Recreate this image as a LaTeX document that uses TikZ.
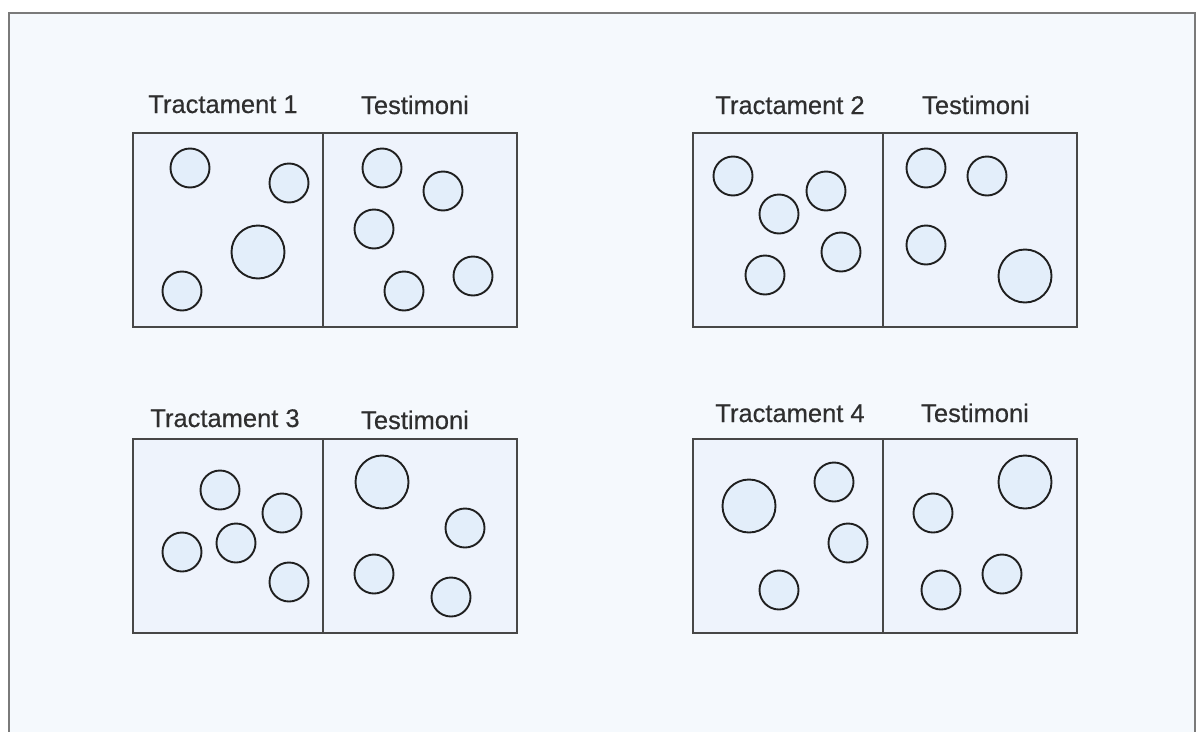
\documentclass[tikz,border=0pt]{standalone}
\usepackage{fontspec}
\setmainfont{Liberation Sans}
\newfontfamily\labelfont[FakeBold=0.5]{Liberation Sans}
\definecolor{pagebg}{HTML}{F5F9FD}
\definecolor{framegray}{HTML}{7A7A7A}
\definecolor{plotfill}{HTML}{EEF3FC}
\definecolor{plotline}{HTML}{474747}
\definecolor{cellfill}{HTML}{E3EEFA}
\definecolor{labeltext}{HTML}{2E2E2E}
\tikzset{
  half/.style={draw=plotline, line width=2pt, fill=plotfill, minimum height=193.5pt,
    inner sep=0pt, outer sep=0pt},
  lefthalf/.style={half, minimum width=190pt},
  righthalf/.style={half, minimum width=194pt},
  cell/.style={circle, draw=black!88, line width=1.9pt, fill=cellfill, inner sep=0pt,
    minimum size=39pt},
  bigcell/.style={cell, minimum size=53pt},
  plotlabel/.style={anchor=base, font=\labelfont\fontsize{25.5}{29}\selectfont,
    text=labeltext, inner sep=0pt}
}
\begin{document}
\begin{tikzpicture}[x=1pt,y=-1pt]
  \useasboundingbox (0,0) rectangle (1196,731);
  \clip (0,0) rectangle (1196,731);
  % outer frame, open at the bottom edge
  \draw[framegray, line width=2.5pt, fill=pagebg] (9,13) rectangle (1195,760);

  % plot 1
  \node[righthalf] (c1) at (420,230) {};
  \node[lefthalf] (t1) at (228,230) {};
  \node[plotlabel] (lt1) at (223,113) {Tractament 1};
  \node[plotlabel] (lc1) at (415,114) {Testimoni};
  \node[cell] (t1a) at (190,168) {};
  \node[cell] (t1b) at (289,183) {};
  \node[bigcell] (t1c) at (258,252) {};
  \node[cell] (t1d) at (182,291) {};
  \node[cell] (c1a) at (382,168) {};
  \node[cell] (c1b) at (443,191) {};
  \node[cell] (c1c) at (374,229) {};
  \node[cell] (c1d) at (404,291) {};
  \node[cell] (c1e) at (473,276) {};

  % plot 2
  \node[righthalf] (c2) at (979.5,230) {};
  \node[lefthalf] (t2) at (787.5,230) {};
  \node[plotlabel] (lt2) at (790,114) {Tractament 2};
  \node[plotlabel] (lc2) at (976,114) {Testimoni};
  \node[cell] (t2a) at (733,176) {};
  \node[cell] (t2b) at (779,214) {};
  \node[cell] (t2c) at (826,191) {};
  \node[cell] (t2d) at (841,252) {};
  \node[cell] (t2e) at (765,275) {};
  \node[cell] (c2a) at (926,168) {};
  \node[cell] (c2b) at (987,176) {};
  \node[cell] (c2c) at (926,245) {};
  \node[bigcell] (c2d) at (1025,276) {};

  % plot 3
  \node[righthalf] (c3) at (420,536) {};
  \node[lefthalf] (t3) at (228,536) {};
  \node[plotlabel] (lt3) at (225,427) {Tractament 3};
  \node[plotlabel] (lc3) at (415,429) {Testimoni};
  \node[cell] (t3a) at (220,490) {};
  \node[cell] (t3b) at (282,513) {};
  \node[cell] (t3c) at (236,543) {};
  \node[cell] (t3d) at (182,552) {};
  \node[cell] (t3e) at (289,582) {};
  \node[bigcell] (c3a) at (382,482) {};
  \node[cell] (c3b) at (465,528) {};
  \node[cell] (c3c) at (374,574) {};
  \node[cell] (c3d) at (451,597) {};

  % plot 4
  \node[righthalf] (c4) at (979.5,536) {};
  \node[lefthalf] (t4) at (787.5,536) {};
  \node[plotlabel] (lt4) at (790,422) {Tractament 4};
  \node[plotlabel] (lc4) at (975,422) {Testimoni};
  \node[bigcell] (t4a) at (749,506) {};
  \node[cell] (t4b) at (834,482) {};
  \node[cell] (t4c) at (848,543) {};
  \node[cell] (t4d) at (779,590) {};
  \node[bigcell] (c4a) at (1025,482) {};
  \node[cell] (c4b) at (933,513) {};
  \node[cell] (c4c) at (1002,574) {};
  \node[cell] (c4d) at (941,590) {};
\end{tikzpicture}
\end{document}
